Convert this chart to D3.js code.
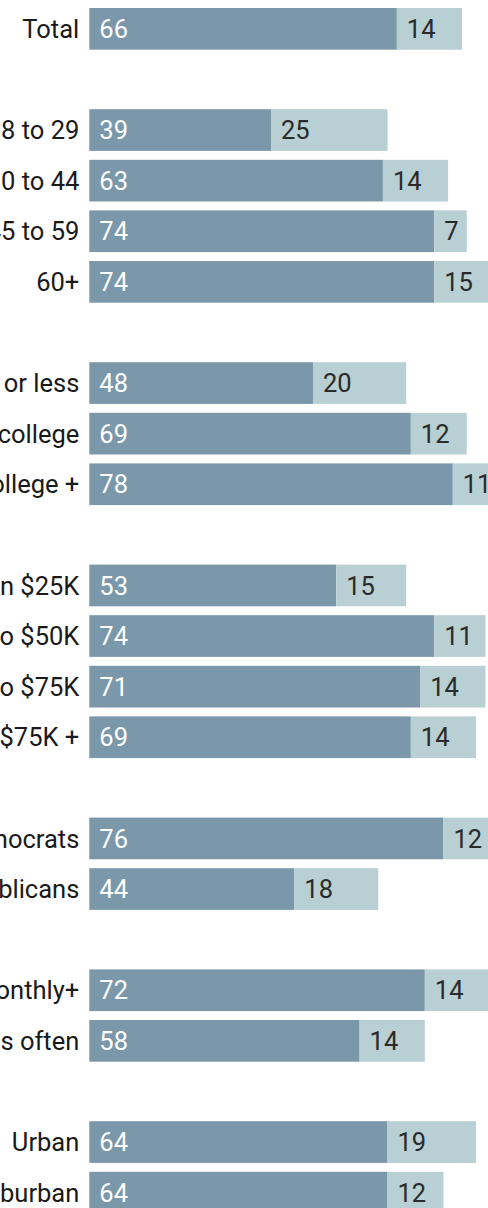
<!DOCTYPE html>
<html>
<head>
<meta charset="utf-8">
<script src="https://cdn.jsdelivr.net/npm/d3@7"></script>
<style>
  html, body { margin: 0; padding: 0; background: #fff; overflow: hidden; }
  svg { display: block; font-family: Roboto, "Noto Sans", sans-serif; }
</style>
</head>
<body>
<script>
// ---- data ----
const categories = [
  "Total",
  "18 to 29", "30 to 44", "45 to 59", "60+",
  "HS or less", "Some college", "College +",
  "Less than $25K", "$25K to $50K", "$50K to $75K", "$75K +",
  "Democrats", "Republicans",
  "Monthly+", "Less often",
  "Urban", "Suburban"
];
const groupSizes = [1, 4, 3, 4, 2, 2, 2];
const primary   = [66, 39, 63, 74, 74, 48, 69, 78, 53, 74, 71, 69, 76, 44, 72, 58, 64, 64];
const secondary = [14, 25, 14, 7, 15, 20, 12, 11, 15, 11, 14, 14, 12, 18, 14, 14, 19, 12];

// ---- layout ----
const W = 488, H = 1208;
const FS = 25.5;
const svg = d3.select("body").append("svg").attr("width", W).attr("height", H);

// slots: categories with an empty slot between groups
const slots = [];
let ci = 0;
groupSizes.forEach((n, gi) => {
  if (gi > 0) slots.push("gap" + gi);
  for (let k = 0; k < n; k++) slots.push(categories[ci++]);
});

const x = d3.scaleLinear().domain([0, 100]).range([89.3, 555.3]);
const stepPx = 50.6, padIn = 0.176;
const y = d3.scaleBand()
  .domain(slots)
  .range([8, 8 + stepPx * (slots.length - padIn)])
  .paddingInner(padIn)
  .paddingOuter(0);

const rows = categories.map((c, i) => ({ c, a: primary[i], b: secondary[i] }));

const g = svg.append("g");
const row = g.selectAll("g.row").data(rows).join("g").attr("class", "row");

row.append("rect")
  .attr("x", x(0))
  .attr("y", d => y(d.c))
  .attr("width", d => x(d.a) - x(0))
  .attr("height", y.bandwidth())
  .attr("fill", "#7a98aa");

row.append("rect")
  .attr("x", d => x(d.a))
  .attr("y", d => y(d.c))
  .attr("width", d => x(d.a + d.b) - x(d.a))
  .attr("height", y.bandwidth())
  .attr("fill", "#b8cfd3");

row.append("text")
  .attr("x", x(0) - 10)
  .attr("y", d => y(d.c) + y.bandwidth() / 2)
  .attr("dy", "0.36em")
  .attr("text-anchor", "end")
  .attr("font-size", FS)
  .attr("fill", "#1a1a1a")
  .text(d => d.c);

row.append("text")
  .attr("x", x(0) + 10)
  .attr("y", d => y(d.c) + y.bandwidth() / 2)
  .attr("dy", "0.36em")
  .attr("font-size", FS)
  .attr("fill", "#fff")
  .text(d => d.a);

row.append("text")
  .attr("x", d => x(d.a) + 10)
  .attr("y", d => y(d.c) + y.bandwidth() / 2)
  .attr("dy", "0.36em")
  .attr("font-size", FS)
  .attr("fill", "#2a2a2a")
  .text(d => d.b);
</script>
</body>
</html>
